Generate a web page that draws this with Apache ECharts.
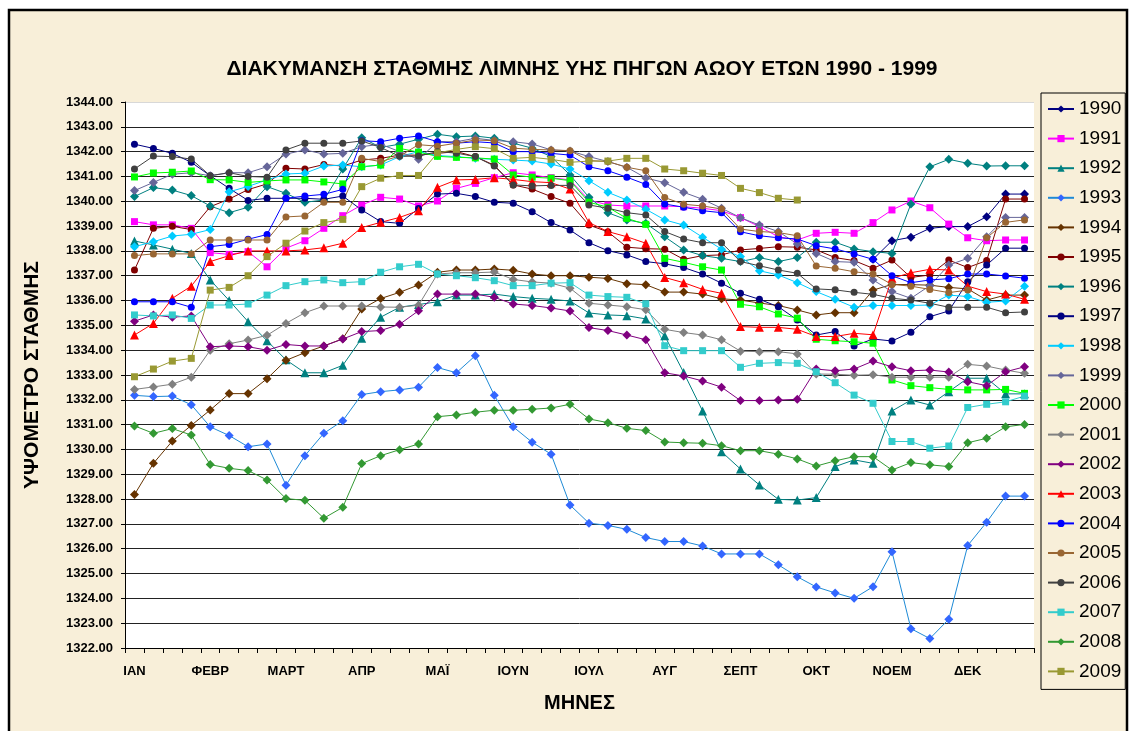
<!DOCTYPE html>
<html>
<head>
<meta charset="utf-8">
<script src="https://cdn.jsdelivr.net/npm/echarts@6/dist/echarts.min.js"></script>
<style>
html, body { margin: 0; padding: 0; background: #fff; }
#chart { width: 1133px; height: 731px; }
</style>
</head>
<body>
<div id="chart"></div>
<script>
// μήνες - 4 μετρήσεις ανά μήνα
var months = ['ΙΑΝ', 'ΦΕΒΡ', 'ΜΑΡΤ', 'ΑΠΡ', 'ΜΑΪ', 'ΙΟΥΝ', 'ΙΟΥΛ', 'ΑΥΓ', 'ΣΕΠΤ', 'ΟΚΤ', 'ΝΟΕΜ', 'ΔΕΚ'];
var years = ['1990', '1991', '1992', '1993', '1994', '1995', '1996', '1997', '1998', '1999',
             '2000', '2001', '2002', '2003', '2004', '2005', '2006', '2007', '2008', '2009'];

var y1990 = [null, null, null, null, null, null, null, null, null, null, null, null, null, null, null, null, null, null, null, null, null, null, null, null, null, null, null, null, null, null, null, null, null, null, null, null, null, null, null, 1337.66, 1338.41, 1338.55, 1338.91, 1338.98, 1338.98, 1339.38, 1340.29, 1340.29];
var y1991 = [1339.18, 1339.05, 1339.05, 1338.91, 1337.93, 1337.86, 1337.97, 1337.36, 1338.11, 1338.41, 1338.91, 1339.42, 1339.85, 1340.16, 1340.09, 1339.81, 1340.01, 1340.52, 1340.72, 1340.95, 1341.15, 1341.06, 1340.95, 1340.86, 1340.05, 1339.85, 1339.81, 1339.81, 1339.81, 1339.78, 1339.72, 1339.62, 1339.34, 1338.98, 1338.57, 1338.44, 1338.71, 1338.75, 1338.71, 1339.14, 1339.65, 1340.01, 1339.74, 1339.08, 1338.53, 1338.41, 1338.44, 1338.44];
var y1992 = [1338.40, 1338.24, 1338.07, 1337.90, 1336.83, 1336.00, 1335.15, 1334.38, 1333.61, 1333.09, 1333.09, 1333.39, 1334.48, 1335.33, 1335.73, 1335.84, 1335.95, 1336.22, 1336.22, 1336.26, 1336.16, 1336.09, 1336.05, 1335.98, 1335.50, 1335.42, 1335.39, 1335.26, 1334.58, 1333.10, 1331.55, 1329.91, 1329.21, 1328.57, 1327.99, 1327.96, 1328.06, 1329.31, 1329.58, 1329.44, 1331.55, 1331.99, 1331.79, 1332.33, 1332.87, 1332.87, 1332.24, 1332.24];
var y1993 = [1332.18, 1332.13, 1332.15, 1331.80, 1330.91, 1330.56, 1330.11, 1330.22, 1328.56, 1329.75, 1330.65, 1331.16, 1332.21, 1332.33, 1332.40, 1332.51, 1333.30, 1333.09, 1333.78, 1332.18, 1330.91, 1330.29, 1329.81, 1327.76, 1327.03, 1326.94, 1326.78, 1326.45, 1326.29, 1326.29, 1326.11, 1325.79, 1325.79, 1325.79, 1325.35, 1324.87, 1324.46, 1324.22, 1324.00, 1324.47, 1325.88, 1322.78, 1322.38, 1323.16, 1326.13, 1327.07, 1328.12, 1328.12];
var y1994 = [1328.18, 1329.44, 1330.34, 1330.97, 1331.59, 1332.25, 1332.25, 1332.85, 1333.59, 1333.90, 1334.17, 1334.46, 1335.66, 1336.08, 1336.33, 1336.63, 1337.14, 1337.23, 1337.23, 1337.27, 1337.22, 1337.07, 1337.00, 1337.00, 1336.94, 1336.89, 1336.68, 1336.64, 1336.34, 1336.34, 1336.26, 1336.07, 1336.02, 1335.90, 1335.80, 1335.62, 1335.42, 1335.51, 1335.51, 1336.42, 1336.65, 1336.64, 1336.62, 1336.53, 1336.47, 1336.02, 1336.22, 1336.22];
var y1995 = [1337.23, 1338.91, 1338.99, 1338.86, 1339.78, 1340.09, 1340.47, 1340.70, 1341.33, 1341.30, 1341.48, 1341.42, 1341.66, 1341.73, 1341.86, 1341.86, 1341.93, 1342.00, 1341.80, 1341.45, 1340.66, 1340.49, 1340.19, 1339.92, 1339.04, 1338.77, 1338.15, 1338.09, 1338.07, 1337.66, 1337.81, 1337.84, 1338.04, 1338.10, 1338.17, 1338.15, 1338.04, 1337.73, 1337.61, 1337.30, 1337.63, 1336.93, 1337.03, 1337.63, 1337.33, 1337.61, 1340.09, 1340.09];
var y1996 = [1340.19, 1340.55, 1340.45, 1340.23, 1339.81, 1339.54, 1339.76, 1340.59, 1340.32, 1339.96, 1340.05, 1341.30, 1342.56, 1342.17, 1342.30, 1342.50, 1342.70, 1342.60, 1342.63, 1342.54, 1342.34, 1342.14, 1341.80, 1341.06, 1340.16, 1339.54, 1339.25, 1339.11, 1338.57, 1338.04, 1337.81, 1337.70, 1337.57, 1337.73, 1337.57, 1337.73, 1338.35, 1338.35, 1338.08, 1337.97, 1337.90, 1339.89, 1341.39, 1341.69, 1341.53, 1341.42, 1341.43, 1341.43];
var y1997 = [1342.30, 1342.13, 1341.93, 1341.57, 1341.03, 1340.52, 1340.03, 1340.12, 1340.12, 1340.12, 1340.08, 1340.21, 1339.65, 1339.18, 1339.11, 1339.71, 1340.29, 1340.32, 1340.19, 1339.96, 1339.92, 1339.58, 1339.14, 1338.84, 1338.33, 1338.01, 1337.84, 1337.57, 1337.48, 1337.33, 1337.07, 1336.70, 1336.29, 1336.05, 1335.75, 1335.22, 1334.61, 1334.75, 1334.17, 1334.45, 1334.37, 1334.72, 1335.35, 1335.58, 1336.76, 1337.43, 1338.11, 1338.11];
var y1998 = [1338.17, 1338.37, 1338.60, 1338.67, 1338.86, 1340.38, 1340.60, 1340.86, 1341.10, 1341.13, 1341.42, 1341.46, 1341.39, 1341.46, 1341.80, 1342.00, 1341.84, 1341.80, 1341.73, 1341.69, 1341.66, 1341.62, 1341.50, 1341.30, 1340.83, 1340.36, 1340.05, 1339.68, 1339.25, 1339.04, 1338.55, 1338.07, 1337.77, 1337.20, 1337.03, 1336.72, 1336.36, 1336.05, 1335.73, 1335.80, 1335.80, 1335.80, 1335.82, 1336.22, 1336.16, 1335.93, 1335.98, 1336.58];
var y1999 = [1340.43, 1340.76, 1341.09, 1341.15, 1341.03, 1341.15, 1341.15, 1341.39, 1341.90, 1342.07, 1341.90, 1341.93, 1342.20, 1342.30, 1342.00, 1341.69, 1342.40, 1342.40, 1342.54, 1342.45, 1342.40, 1342.31, 1342.07, 1342.03, 1341.80, 1341.60, 1341.37, 1340.94, 1340.75, 1340.36, 1340.08, 1339.72, 1339.34, 1339.04, 1338.78, 1338.28, 1337.90, 1337.57, 1337.54, 1336.83, 1336.36, 1336.09, 1336.60, 1337.43, 1337.70, 1338.57, 1339.35, 1339.35];
var y2000 = [1340.98, 1341.14, 1341.17, 1341.22, 1340.87, 1340.86, 1340.76, 1340.82, 1340.86, 1340.86, 1340.78, 1340.70, 1341.39, 1341.46, 1342.13, 1341.98, 1341.81, 1341.77, 1341.75, 1341.70, 1341.06, 1340.97, 1340.93, 1340.83, 1339.96, 1339.76, 1339.31, 1339.07, 1337.70, 1337.54, 1337.36, 1337.23, 1335.85, 1335.75, 1335.46, 1335.29, 1334.44, 1334.38, 1334.34, 1334.28, 1332.80, 1332.57, 1332.49, 1332.42, 1332.40, 1332.40, 1332.42, 1332.26];
var y2001 = [1332.42, 1332.52, 1332.63, 1332.91, 1334.00, 1334.26, 1334.41, 1334.60, 1335.08, 1335.51, 1335.78, 1335.78, 1335.78, 1335.74, 1335.73, 1335.81, 1337.07, 1337.12, 1337.12, 1337.15, 1336.85, 1336.75, 1336.70, 1336.50, 1335.89, 1335.82, 1335.75, 1335.63, 1334.84, 1334.71, 1334.61, 1334.42, 1333.96, 1333.94, 1333.94, 1333.85, 1333.04, 1333.03, 1332.99, 1333.01, 1332.91, 1332.91, 1332.91, 1332.91, 1333.43, 1333.36, 1333.20, 1333.07];
var y2002 = [1335.17, 1335.42, 1335.33, 1335.38, 1334.14, 1334.17, 1334.14, 1334.00, 1334.23, 1334.17, 1334.17, 1334.45, 1334.75, 1334.79, 1335.04, 1335.59, 1336.26, 1336.26, 1336.26, 1336.13, 1335.86, 1335.80, 1335.70, 1335.58, 1334.91, 1334.79, 1334.61, 1334.42, 1333.09, 1332.96, 1332.76, 1332.51, 1331.97, 1331.97, 1331.99, 1332.02, 1333.24, 1333.17, 1333.24, 1333.56, 1333.33, 1333.17, 1333.20, 1333.12, 1332.73, 1332.57, 1333.13, 1333.33];
var y2003 = [1334.61, 1335.08, 1336.09, 1336.58, 1337.57, 1337.81, 1338.00, 1338.00, 1338.00, 1338.04, 1338.13, 1338.31, 1338.94, 1339.15, 1339.35, 1339.62, 1340.56, 1340.86, 1340.88, 1340.95, 1340.88, 1340.79, 1340.75, 1340.49, 1339.14, 1338.78, 1338.57, 1338.31, 1336.93, 1336.72, 1336.45, 1336.29, 1334.95, 1334.92, 1334.92, 1334.84, 1334.55, 1334.55, 1334.68, 1334.62, 1336.90, 1337.12, 1337.26, 1337.23, 1336.58, 1336.36, 1336.26, 1336.05];
var y2004 = [1335.95, 1335.95, 1335.95, 1335.73, 1338.17, 1338.26, 1338.47, 1338.66, 1340.12, 1340.21, 1340.28, 1340.48, 1342.44, 1342.40, 1342.54, 1342.63, 1342.40, 1342.34, 1342.40, 1342.35, 1342.00, 1342.00, 1341.93, 1341.86, 1341.39, 1341.23, 1340.97, 1340.68, 1339.89, 1339.76, 1339.62, 1339.54, 1338.77, 1338.61, 1338.53, 1338.48, 1338.21, 1338.08, 1337.88, 1337.66, 1337.00, 1336.72, 1336.83, 1336.88, 1337.07, 1337.07, 1336.99, 1336.90];
var y2005 = [1337.81, 1337.88, 1337.88, 1337.88, 1338.44, 1338.44, 1338.44, 1338.44, 1339.37, 1339.41, 1339.96, 1339.96, 1341.73, 1341.60, 1341.82, 1342.28, 1342.22, 1342.34, 1342.47, 1342.44, 1342.14, 1342.09, 1342.07, 1342.04, 1341.64, 1341.60, 1341.37, 1341.23, 1340.15, 1339.88, 1339.81, 1339.69, 1338.88, 1338.78, 1338.74, 1338.61, 1337.39, 1337.30, 1337.16, 1337.07, 1336.65, 1336.58, 1336.45, 1336.32, 1336.42, 1338.53, 1339.15, 1339.25];
var y2006 = [1341.30, 1341.82, 1341.80, 1341.70, 1341.03, 1341.15, 1341.00, 1340.97, 1342.07, 1342.34, 1342.34, 1342.34, 1342.43, 1342.17, 1341.81, 1341.82, 1342.00, 1341.94, 1341.80, 1341.42, 1340.66, 1340.62, 1340.64, 1340.64, 1339.85, 1339.72, 1339.54, 1339.45, 1338.78, 1338.48, 1338.33, 1338.33, 1337.57, 1337.40, 1337.23, 1337.10, 1336.47, 1336.43, 1336.33, 1336.25, 1336.09, 1336.02, 1335.89, 1335.73, 1335.73, 1335.73, 1335.51, 1335.54];
var y2007 = [1335.42, 1335.38, 1335.42, 1335.28, 1335.82, 1335.82, 1335.86, 1336.22, 1336.60, 1336.76, 1336.83, 1336.72, 1336.76, 1337.14, 1337.36, 1337.46, 1337.07, 1337.00, 1336.92, 1336.80, 1336.60, 1336.60, 1336.70, 1336.72, 1336.22, 1336.16, 1336.13, 1335.87, 1334.18, 1333.98, 1333.98, 1333.98, 1333.31, 1333.47, 1333.50, 1333.47, 1333.13, 1332.69, 1332.19, 1331.86, 1330.32, 1330.32, 1330.05, 1330.14, 1331.69, 1331.82, 1331.92, 1332.15];
var y2008 = [1330.95, 1330.65, 1330.84, 1330.58, 1329.39, 1329.24, 1329.15, 1328.77, 1328.02, 1327.95, 1327.23, 1327.67, 1329.43, 1329.75, 1329.99, 1330.22, 1331.32, 1331.39, 1331.50, 1331.58, 1331.58, 1331.62, 1331.67, 1331.82, 1331.23, 1331.08, 1330.85, 1330.76, 1330.30, 1330.27, 1330.25, 1330.15, 1329.95, 1329.95, 1329.81, 1329.62, 1329.33, 1329.54, 1329.71, 1329.71, 1329.17, 1329.47, 1329.38, 1329.31, 1330.27, 1330.45, 1330.91, 1331.01];
var y2009 = [1332.93, 1333.24, 1333.56, 1333.67, 1336.42, 1336.53, 1337.00, 1337.77, 1338.31, 1338.80, 1339.14, 1339.27, 1340.59, 1340.93, 1341.04, 1341.04, 1341.95, 1342.09, 1342.20, 1342.12, 1341.73, 1341.77, 1341.69, 1341.57, 1341.62, 1341.62, 1341.73, 1341.73, 1341.30, 1341.23, 1341.13, 1341.04, 1340.52, 1340.35, 1340.12, 1340.05, null, null, null, null, null, null, null, null, null, null, null, null];

var values = [y1990, y1991, y1992, y1993, y1994, y1995, y1996, y1997, y1998, y1999,
              y2000, y2001, y2002, y2003, y2004, y2005, y2006, y2007, y2008, y2009];

// χρώματα / σύμβολα όπως στο Excel
var colors = ['#000080', '#FF00FF', '#008080', '#3366FF', '#663300', '#800000', '#008080', '#000080', '#00CCFF', '#666699',
              '#00FF00', '#808080', '#800080', '#FF0000', '#0000FF', '#996633', '#404040', '#33CCCC', '#339933', '#999933'];
var lineColors = ['#000080', '#FF00FF', '#008080', '#1E8AD6', '#663300', '#800000', '#008080', '#000080', '#00CCFF', '#666699',
              '#00FF00', '#808080', '#800080', '#FF0000', '#0000FF', '#996633', '#404040', '#33CCCC', '#339933', '#999933'];
var symbols = ['diamond', 'rect', 'triangle', 'diamond', 'diamond', 'circle', 'diamond', 'circle', 'diamond', 'diamond',
               'rect', 'diamond', 'diamond', 'triangle', 'circle', 'circle', 'circle', 'rect', 'diamond', 'rect'];

// κατηγορίες: 4 ανά μήνα, ετικέτα μόνο στην πρώτη
var categories = [];
months.forEach(function (m) {
    categories.push(m, '', '', '');
});

var series = years.map(function (y, i) {
    var sz = symbols[i] === 'circle' ? 7 : (symbols[i] === 'rect' ? 7 : 9);
    return {
        name: y,
        type: 'line',
        data: values[i],
        symbol: symbols[i],
        symbolSize: sz,
        showSymbol: true,
        connectNulls: false,
        itemStyle: { color: colors[i] },
        lineStyle: { color: lineColors[i], width: 1 },
        emphasis: { disabled: true },
        animation: false
    };
});

var gridColors = [];
for (var k = 0; k < 23; k++) gridColors.push(k === 22 ? '#d8d8d8' : '#222');

var myChart = echarts.init(document.getElementById('chart'));
var option = {
    backgroundColor: '#fff',
    animation: false,
    graphic: [
        {
            type: 'rect',
            z: -10,
            silent: true,
            shape: { x: 9, y: 10, width: 1118, height: 740 },
            style: { fill: '#F8EFD9', stroke: '#000', lineWidth: 2.5 }
        }
    ],
    title: {
        text: 'ΔΙΑΚΥΜΑΝΣΗ ΣΤΑΘΜΗΣ ΛΙΜΝΗΣ ΥΗΣ ΠΗΓΩΝ ΑΩΟΥ ΕΤΩΝ 1990 - 1999',
        left: 577,
        top: 54,
        textAlign: 'center',
        textStyle: { fontFamily: 'Liberation Sans, Arial', fontSize: 21, fontWeight: 'bold', color: '#000' }
    },
    legend: {
        data: years,
        orient: 'vertical',
        left: 1041,
        top: 93,
        padding: [6, 4, 8, 6],
        borderColor: '#000',
        borderWidth: 1,
        itemWidth: 26,
        itemHeight: 9,
        itemGap: 9.6,
        selectedMode: false,
        textStyle: { fontFamily: 'Liberation Sans, Arial', fontSize: 19, lineHeight: 20, color: '#000' }
    },
    grid: {
        left: 125,
        right: 99,
        top: 102,
        bottom: 83,
        show: true,
        backgroundColor: '#fff',
        borderWidth: 0,
        containLabel: false
    },
    xAxis: [
        {
            type: 'category',
            boundaryGap: true,
            data: categories,
            name: 'ΜΗΝΕΣ',
            nameLocation: 'middle',
            nameGap: 45,
            nameTextStyle: { fontFamily: 'Liberation Sans, Arial', fontSize: 20, fontWeight: 'bold', color: '#000' },
            axisLine: { lineStyle: { color: '#000', width: 1 } },
            axisTick: { show: true, interval: 0, length: 5, lineStyle: { color: '#000' } },
            axisLabel: { interval: 0, margin: 17, fontFamily: 'Liberation Sans, Arial', fontSize: 13, fontWeight: 'bold', color: '#000' },
            splitLine: { show: false }
        }
    ],
    yAxis: [
        {
            type: 'value',
            min: 1322,
            max: 1344,
            interval: 1,
            name: 'ΥΨΟΜΕΤΡΟ ΣΤΑΘΜΗΣ',
            nameLocation: 'middle',
            nameRotate: 90,
            nameGap: 82,
            nameTextStyle: { fontFamily: 'Liberation Sans, Arial', fontSize: 21, fontWeight: 'bold', color: '#000' },
            axisLine: { show: true, lineStyle: { color: '#000', width: 1 } },
            axisTick: { show: true, length: 4, lineStyle: { color: '#000' } },
            axisLabel: {
                margin: 12,
                fontFamily: 'Liberation Sans, Arial',
                fontSize: 13,
                fontWeight: 'bold',
                color: '#000',
                formatter: function (v) { return v.toFixed(2); }
            },
            splitLine: { show: true, lineStyle: { color: gridColors, width: 1 } }
        }
    ],
    series: series
};
myChart.setOption(option);
</script>
</body>
</html>
